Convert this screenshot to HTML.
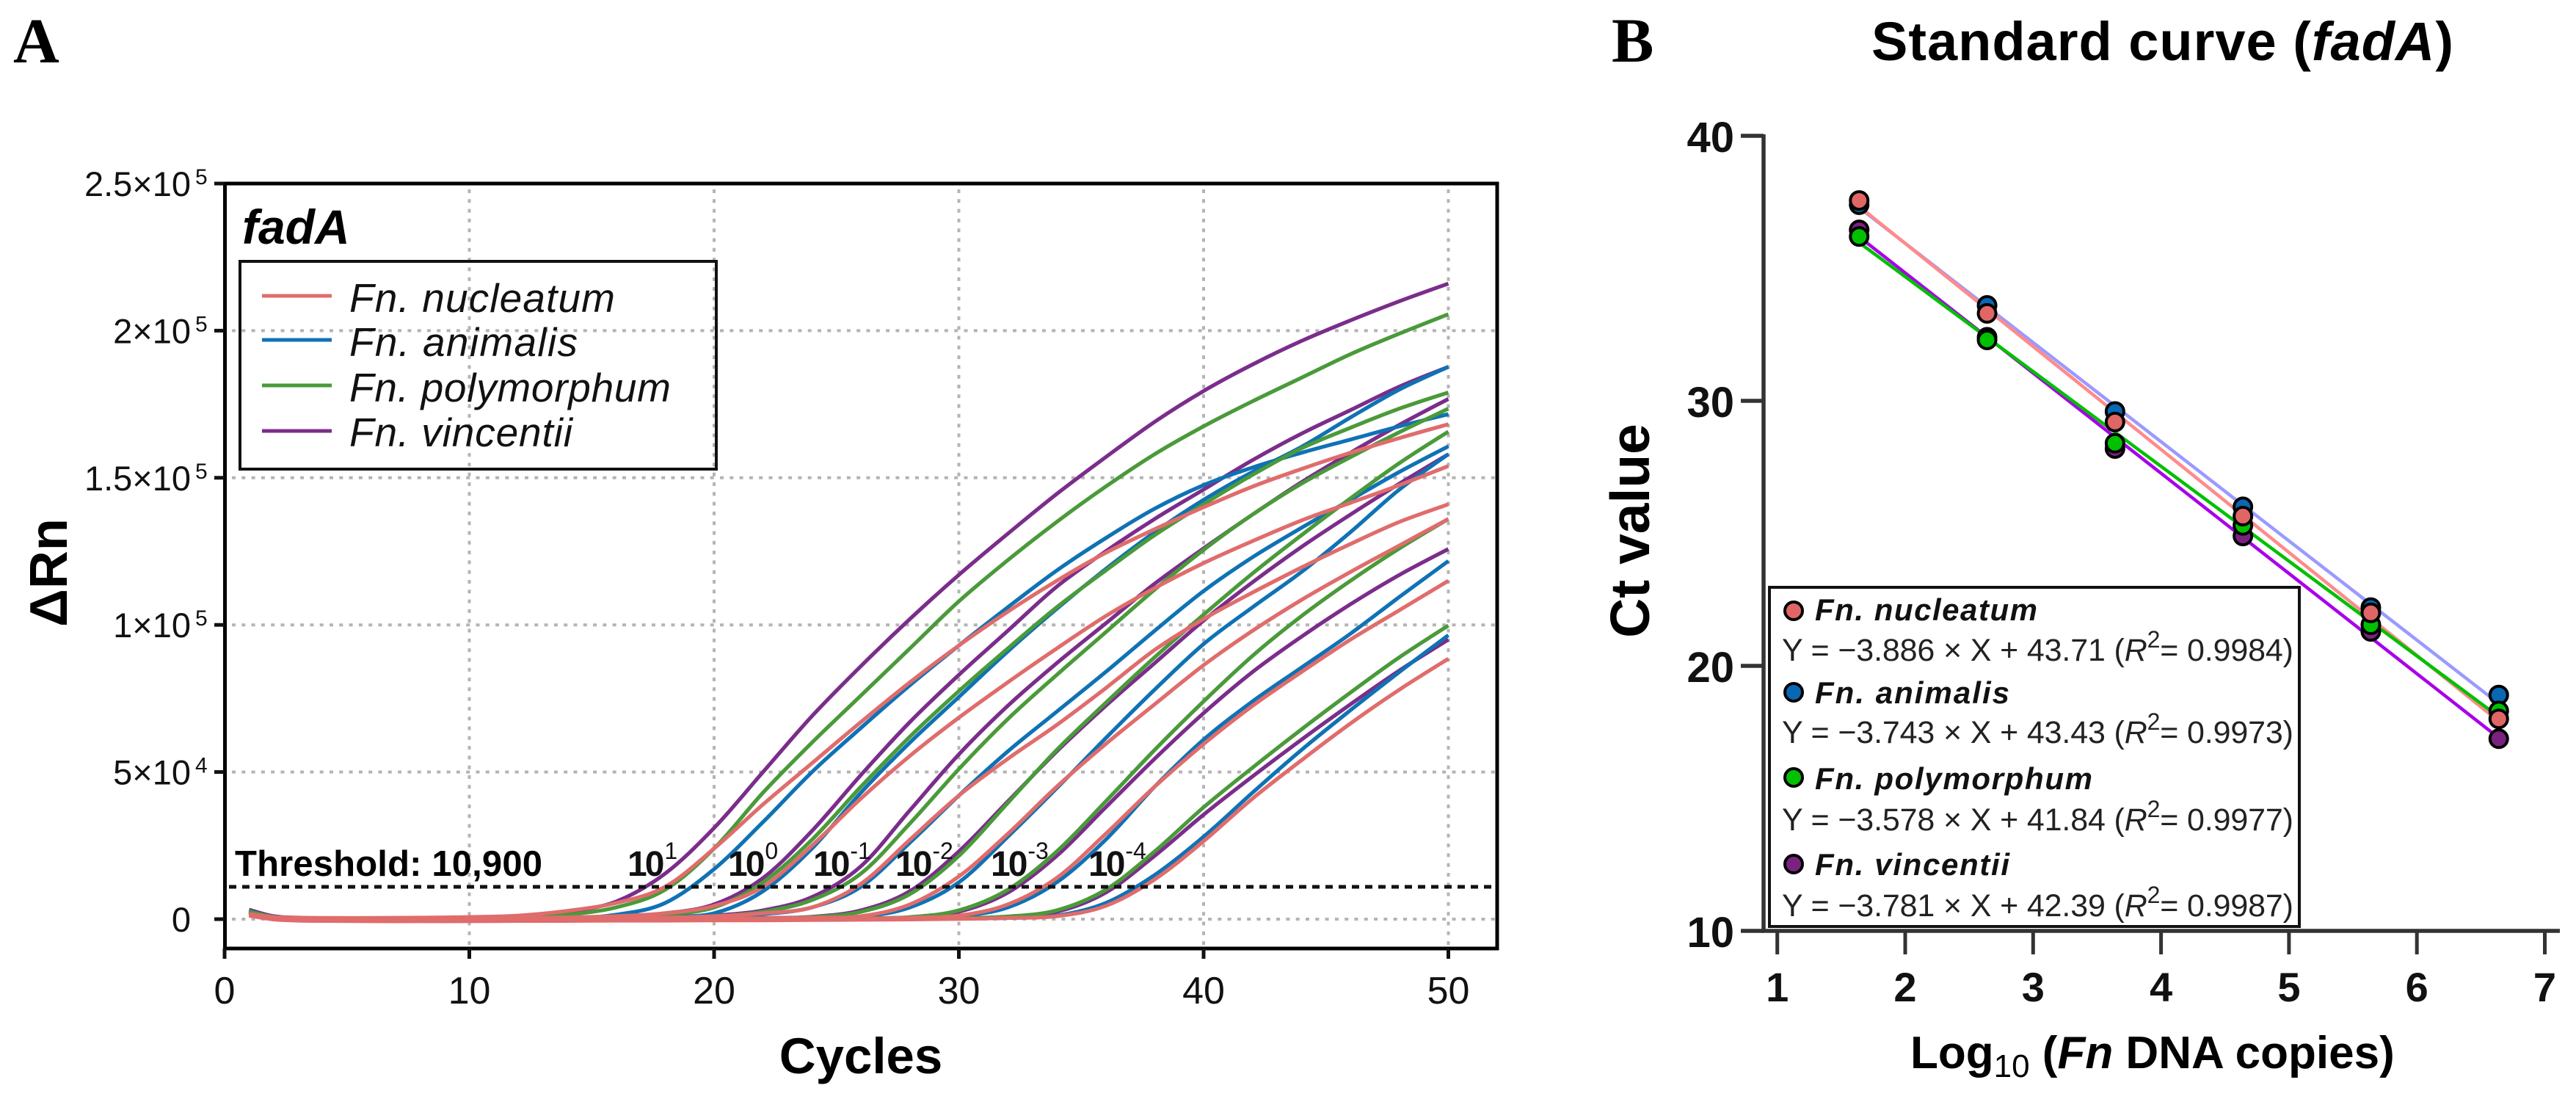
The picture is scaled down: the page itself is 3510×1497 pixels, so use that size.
<!DOCTYPE html>
<html lang="en">
<head>
<meta charset="utf-8">
<title>fadA amplification and standard curves</title>
<style>
html,body{margin:0;padding:0;background:#fff;}
svg{display:block;font-family:"Liberation Sans",sans-serif;}
</style>
</head>
<body>
<svg id="figure" xmlns="http://www.w3.org/2000/svg" width="3510" height="1497" viewBox="0 0 3510 1497">
  <rect x="0" y="0" width="3510" height="1497" fill="#fff"/>
  <text x="18" y="85" font-family="'Liberation Serif',serif" font-weight="700" font-size="87">A</text>
  <text x="2196" y="84" font-family="'Liberation Serif',serif" font-weight="700" font-size="86">B</text>

  <g id="gridA"></g>
  <g id="curvesA"></g>
  <line x1="312" y1="1208" x2="2038" y2="1208" stroke="#111" stroke-width="5" stroke-dasharray="10 8"/>
  <g id="axesA"></g>

  <text x="330" y="332" font-weight="700" font-style="italic" font-size="66">fadA</text>
  <g>
    <rect x="327" y="356" width="649" height="283" fill="none" stroke="#111" stroke-width="4"/>
    <line x1="357" x2="452" y1="403" y2="403" stroke="#e06c6c" stroke-width="5"/>
    <line x1="357" x2="452" y1="463" y2="463" stroke="#0f72b5" stroke-width="5"/>
    <line x1="357" x2="452" y1="525" y2="525" stroke="#4a9a3a" stroke-width="5"/>
    <line x1="357" x2="452" y1="587" y2="587" stroke="#7b2d8b" stroke-width="5"/>
    <g font-style="italic" font-size="55" fill="#111">
      <text x="476" y="425" textLength="362">Fn. nucleatum</text>
      <text x="476" y="485" textLength="311">Fn. animalis</text>
      <text x="476" y="547" textLength="438">Fn. polymorphum</text>
      <text x="476" y="608" textLength="304">Fn. vincentii</text>
    </g>
  </g>
  <text x="320" y="1193" font-weight="700" font-size="49" textLength="419">Threshold: 10,900</text>
  <g font-weight="700" font-size="48" fill="#111">
    <text x="855" y="1193"><tspan letter-spacing="-3">10</tspan><tspan dx="3" dy="-23" font-size="32" font-weight="400">1</tspan></text>
    <text x="992" y="1193"><tspan letter-spacing="-3">10</tspan><tspan dx="3" dy="-23" font-size="32" font-weight="400">0</tspan></text>
    <text x="1108" y="1193"><tspan letter-spacing="-3">10</tspan><tspan dx="3" dy="-23" font-size="32" font-weight="400">-1</tspan></text>
    <text x="1220" y="1193"><tspan letter-spacing="-3">10</tspan><tspan dx="3" dy="-23" font-size="32" font-weight="400">-2</tspan></text>
    <text x="1350" y="1193"><tspan letter-spacing="-3">10</tspan><tspan dx="3" dy="-23" font-size="32" font-weight="400">-3</tspan></text>
    <text x="1483" y="1193"><tspan letter-spacing="-3">10</tspan><tspan dx="3" dy="-23" font-size="32" font-weight="400">-4</tspan></text>
  </g>
  <text transform="translate(91 780) rotate(-90)" text-anchor="middle" font-weight="700" font-size="72">ΔRn</text>
  <text x="1173" y="1462" text-anchor="middle" font-weight="700" font-size="69">Cycles</text>

  <text x="2550" y="82" font-weight="700" font-size="74" textLength="793">Standard curve (<tspan font-style="italic">fadA</tspan>)</text>
  <g id="linesB"></g>
  <g id="pointsB"></g>
  <g id="axesB"></g>

  <g>
    <rect x="2411" y="800" width="722" height="462" fill="#fff" stroke="#111" stroke-width="4"/>
    <circle cx="2444" cy="832" r="12" fill="#e06666" stroke="#000" stroke-width="4"/>
    <circle cx="2444" cy="943" r="12" fill="#0868b4" stroke="#000" stroke-width="4"/>
    <circle cx="2444" cy="1059" r="12" fill="#00c000" stroke="#000" stroke-width="4"/>
    <circle cx="2444" cy="1177" r="12" fill="#7a2280" stroke="#000" stroke-width="4"/>
    <g font-weight="700" font-style="italic" font-size="42" fill="#111">
      <text x="2473" y="845" textLength="303">Fn. nucleatum</text>
      <text x="2473" y="958" textLength="265">Fn. animalis</text>
      <text x="2473" y="1075" textLength="378">Fn. polymorphum</text>
      <text x="2473" y="1192" textLength="265">Fn. vincentii</text>
    </g>
    <g font-size="43" fill="#222">
      <text x="2428" y="900" textLength="697">Y = −3.886 × X + 43.71 (<tspan font-style="italic">R</tspan><tspan dy="-18" font-size="32">2</tspan><tspan dy="18">= 0.9984)</tspan></text>
      <text x="2428" y="1012" textLength="697">Y = −3.743 × X + 43.43 (<tspan font-style="italic">R</tspan><tspan dy="-18" font-size="32">2</tspan><tspan dy="18">= 0.9973)</tspan></text>
      <text x="2428" y="1131" textLength="697">Y = −3.578 × X + 41.84 (<tspan font-style="italic">R</tspan><tspan dy="-18" font-size="32">2</tspan><tspan dy="18">= 0.9977)</tspan></text>
      <text x="2428" y="1248" textLength="697">Y = −3.781 × X + 42.39 (<tspan font-style="italic">R</tspan><tspan dy="-18" font-size="32">2</tspan><tspan dy="18">= 0.9987)</tspan></text>
    </g>
  </g>
  <text transform="translate(2247 723) rotate(-90)" text-anchor="middle" font-weight="700" font-size="75">Ct value</text>
  <text x="2603" y="1455" font-weight="700" font-size="62">Log<tspan dy="12" font-size="44" font-weight="400">10</tspan><tspan dy="-12"> (</tspan><tspan font-style="italic">Fn</tspan> DNA copies)</text>
</svg>

<script>
// ----- Panel A data: delta-Rn in thousands -----
const cycles = [1,2,3,4,6,8,10,12,14,16,18,20,22,24,26,28,30,32,34,36,38,40,42,44,46,48,50];
const vincentii1 = [3.2,1,.5,.3,.1,.1,.4,.9,2.5,6,15.5,31,50,69,86,102,117,131,144.5,157,169,179.5,188.5,196.5,203.5,210,216];
const vincentii2 = [2.5,.7,.3,.1,0,0,.1,.2,.4,.9,2,5,14,30,49,67,83,98,113,125,136,146,156,165,173,181,187.7];
const vincentii3 = [2.4,.6,.2,.1,0,0,0,0,.1,.2,.5,1.2,3,7.5,18,37,56,72.5,87,100.5,114,126,137.5,148.5,158.5,168,176.8];
const vincentii4 = [2.2,.6,.2,0,0,-.1,0,0,0,.1,.1,.2,.4,.8,3,9.5,23,40,57,72.5,87,101.5,114.5,126.5,137.5,148,158];
const vincentii5 = [2.6,.7,.3,.1,0,0,0,0,0,0,.1,.1,.1,.2,.3,.6,2.5,9,21.5,38,54.5,70,84,96,107,117,125.8];
const vincentii6 = [2.4,.6,.2,.1,0,0,0,0,0,0,0,0,0,.1,.1,.2,.3,.8,2.5,9,21.5,35.5,48.5,61,73,84.5,95];
const animalis1 = [2.8,.6,.2,0,-.1,-.2,0,.1,.3,1.5,5.5,17,33,50,65,79.5,93,106,118.5,129.5,139.5,147.5,153.5,158.5,163,167.5,171.6];
const animalis2 = [2.6,.6,.2,0,-.1,-.1,0,.1,.2,.4,.9,2,9.5,24,43,60,75.5,91,105.5,119,131.5,142.5,152,160.5,170.5,180,187.7];
const animalis3 = [2.5,.6,.2,0,-.1,-.1,0,0,0,.1,.3,.7,1.7,4,11,26,42,57,70.5,84,98,111.5,123,133,142.5,152,160.7];
const animalis4 = [2.7,.7,.2,.1,0,-.1,-.1,0,0,0,.1,.1,.2,.4,.8,4,12.5,28,44.5,61.5,78,93.5,106,118,131.5,146,158];
const animalis5 = [2.3,.5,.2,0,-.1,-.1,-.1,0,0,0,0,.1,.1,.1,.2,.4,1,4,12.5,27,45,61,74,85.5,97,109.5,121.7];
const animalis6 = [2.6,.6,.1,0,-.1,-.1,-.1,0,0,0,0,0,0,.1,.1,.1,.2,.4,1.2,5.5,15,28,43,57.5,71,84,96.5];
const polymorphum1 = [2.6,.8,.4,.2,.1,0,.2,.5,1.5,4,10,24,43,60,76,92,108,122,135,147,158,167.5,176,184,192,199,205.6];
const polymorphum2 = [2.5,.7,.3,.1,0,0,.1,.2,.3,.7,1.6,4,12.5,27,45,62,77.5,92,106,118.5,130.5,141,151,160,167,173.5,179];
const polymorphum3 = [2.4,.6,.2,.1,0,0,0,0,.1,.2,.4,1,2.5,6.5,15.5,32.5,51,68,83,97.5,112,125.5,137.5,148,157,165.5,173.5];
const polymorphum4 = [2.3,.6,.2,0,0,0,0,0,0,.1,.1,.2,.3,.7,2.5,8.5,21.5,39.5,57.5,73.5,89,103.5,117.5,130.5,143,155,165.7];
const polymorphum5 = [2.5,.6,.2,.1,0,0,0,0,0,0,.1,.1,.1,.2,.3,.7,3,10,23,40,57.5,74,89.5,103,115,126,136];
const polymorphum6 = [2.2,.5,.2,0,0,0,0,0,0,0,0,0,.1,.1,.1,.2,.3,.9,3,10,23,38,51.5,64.5,77,89,99.8];
const nucleatum1 = [1.8,.7,.5,.4,.4,.5,.7,1.2,2.8,5.5,11,24,39,53,67,80.5,93,104.5,115,124.5,132.5,140,147,153,158.5,163.5,168.2];
const nucleatum2 = [1.6,.5,.3,.3,.3,.3,.3,.4,.6,1,2,4.5,11,25,41,55.5,68.5,80.5,92,103,112.5,121,128.5,135.5,141.5,147.5,154];
const nucleatum3 = [1.4,.2,0,0,0,0,0,.1,.2,.3,.5,1,2,4,12,27,42,54.5,66,78.5,91.5,102,111,119.5,127.5,135,141];
const nucleatum4 = [1.5,.1,-.2,-.3,-.3,-.3,-.3,-.2,-.1,0,.1,.2,.3,.5,1,5,14.5,29,45,59.5,73,86.3,98,108.5,118,127,136];
const nucleatum5 = [1.3,0,-.4,-.5,-.6,-.6,-.5,-.5,-.4,-.4,-.3,-.3,-.2,-.1,.1,.5,1.2,5,14,29,45,59.5,72.5,84,95,105,115];
const nucleatum6 = [1.2,-.1,-.5,-.6,-.7,-.7,-.7,-.6,-.6,-.5,-.5,-.4,-.4,-.3,-.2,-.1,.1,.4,1,4.5,13.5,26.5,41,54,66.5,78,88.5];

const vincentiiCurves = [vincentii1,vincentii2,vincentii3,vincentii4,vincentii5,vincentii6];
const animalisCurves = [animalis1,animalis2,animalis3,animalis4,animalis5,animalis6];
const polymorphumCurves = [polymorphum1,polymorphum2,polymorphum3,polymorphum4,polymorphum5,polymorphum6];
const nucleatumCurves = [nucleatum1,nucleatum2,nucleatum3,nucleatum4,nucleatum5,nucleatum6];

const xTicksA = [0,10,20,30,40,50];
const yTicksA = [0,50,100,150,200,250];
const yTickBases = ["0","5×10","1×10","1.5×10","2×10","2.5×10"];
const yTickExps = ["","4","5","5","5","5"];

// ----- Panel B data: Ct values -----
const logCopies = [1.64,2.64,3.64,4.64,5.64,6.64];
const ctVincentii = [36.45,32.4,28.2,24.9,21.3,17.25];
const ctAnimalis = [37.4,33.6,29.6,26,22.2,18.9];
const ctPolymorphum = [36.2,32.3,28.4,25.3,21.55,18.3];
const ctNucleatum = [37.56,33.3,29.2,25.65,22,18];
const fitSlopes = [-3.781,-3.743,-3.578,-3.886];
const fitIntercepts = [42.39,43.43,41.84,43.71];
const xTicksB = [1,2,3,4,5,6,7];
const yTicksB = [10,20,30,40];

// ----- Axis functions -----
const xA = c => 306 + c * 33.35;
const yA = v => 1252 - v * 4.008;
const xB = v => 2421.7 + (v - 1) * 174.3;
const yB = v => 1268 - (v - 10) * 36.1;

const NS = "http://www.w3.org/2000/svg";
function mk(tag, parent, attrs) {
  const el = document.createElementNS(NS, tag);
  for (const k in attrs) el.setAttribute(k, attrs[k]);
  parent.appendChild(el);
  return el;
}
function smoothPath(pts) {
  let d = "M" + pts[0][0].toFixed(1) + " " + pts[0][1].toFixed(1);
  for (let i = 0; i < pts.length - 1; i++) {
    const p0 = pts[Math.max(i - 1, 0)], p1 = pts[i], p2 = pts[i + 1], p3 = pts[Math.min(i + 2, pts.length - 1)];
    const c1x = p1[0] + (p2[0] - p0[0]) / 6, c1y = p1[1] + (p2[1] - p0[1]) / 6;
    const c2x = p2[0] - (p3[0] - p1[0]) / 6, c2y = p2[1] - (p3[1] - p1[1]) / 6;
    d += "C" + c1x.toFixed(1) + " " + c1y.toFixed(1) + " " + c2x.toFixed(1) + " " + c2y.toFixed(1) + " " + p2[0].toFixed(1) + " " + p2[1].toFixed(1);
  }
  return d;
}

// ----- Panel A grid -----
const gridA = document.getElementById("gridA");
yTicksA.forEach(function (t) {
  if (t === 250) return;
  const g = mk("line", gridA, {x1: 316, x2: 2038, y1: yA(t), y2: yA(t), stroke: "#b4b4b4", "stroke-width": 4, "stroke-dasharray": "5 8.3"});
  
  
});
xTicksA.forEach(function (t) {
  if (t === 0) return;
  const g = mk("line", gridA, {x1: xA(t), x2: xA(t), y1: 258, y2: 1290, stroke: "#b4b4b4", "stroke-width": 4, "stroke-dasharray": "5 8.3"});
  
  
});

// ----- Panel A curves -----
const curvesA = document.getElementById("curvesA");
function drawCurves(list, colour, species) {
  list.forEach(function (values, i) {
    const pts = values.map(function (v, j) { return [xA(cycles[j]), yA(v)]; });
    const p = mk("path", curvesA, {d: smoothPath(pts), fill: "none", stroke: colour, "stroke-width": 5.2, "stroke-linejoin": "round"});
    
    
  });
}
drawCurves(vincentiiCurves, "#7b2d8b", "vincentii");
drawCurves(animalisCurves, "#0f72b5", "animalis");
drawCurves(polymorphumCurves, "#4a9a3a", "polymorphum");
drawCurves(nucleatumCurves, "#e06c6c", "nucleatum");

// ----- Panel A axes -----
const axesA = document.getElementById("axesA");
const frameA = mk("rect", axesA, {x: 306.5, y: 250, width: 1733.5, height: 1042, fill: "none", stroke: "#000", "stroke-width": 5});


yTicksA.forEach(function (t, i) {
  const y = yA(t);
  const tick = mk("line", axesA, {x1: 292, x2: 306, y1: y, y2: y, stroke: "#111", "stroke-width": 5});
  
  
  const lab = mk("text", axesA, {x: 260, y: y + 17, "text-anchor": "end", "font-size": 47, fill: "#111"});
  lab.textContent = yTickBases[i];
  
  
  if (yTickExps[i]) {
    const sup = mk("text", axesA, {x: 266, y: y + 1, "font-size": 30, fill: "#111"});
    sup.textContent = yTickExps[i];
    
    
  }
});
xTicksA.forEach(function (t) {
  const x = xA(t);
  const tick = mk("line", axesA, {x1: x, x2: x, y1: 1292, y2: 1306, stroke: "#111", "stroke-width": 5});
  
  
  const lab = mk("text", axesA, {x: x, y: 1367, "text-anchor": "middle", "font-size": 52, fill: "#111"});
  lab.textContent = String(t);
  
  
});

// ----- Panel B lines and points -----
const linesB = document.getElementById("linesB");
const fitColours = ["#a800e8", "#9a9aff", "#00c000", "#ff8a8a"];
const fitNames = ["vincentii", "animalis", "polymorphum", "nucleatum"];
[1, 3, 0, 2].forEach(function (i) {
  const x0 = logCopies[0], x1 = logCopies[logCopies.length - 1];
  const l = mk("line", linesB, {
    x1: xB(x0), y1: yB(fitSlopes[i] * x0 + fitIntercepts[i]),
    x2: xB(x1), y2: yB(fitSlopes[i] * x1 + fitIntercepts[i]),
    stroke: fitColours[i], "stroke-width": 4.5
  });
  
  
});
const pointsB = document.getElementById("pointsB");
function drawPoints(values, colour, species) {
  values.forEach(function (v, i) {
    const c = mk("circle", pointsB, {cx: xB(logCopies[i]), cy: yB(v), r: 12, fill: colour, stroke: "#000", "stroke-width": 4});
    
    
  });
}
drawPoints(ctVincentii, "#7a2280", "vincentii");
drawPoints(ctAnimalis, "#0868b4", "animalis");
drawPoints(ctPolymorphum, "#00c000", "polymorphum");
drawPoints(ctNucleatum, "#e06666", "nucleatum");

// ----- Panel B axes -----
const axesB = document.getElementById("axesB");
const yAxisB = mk("line", axesB, {x1: 2403, x2: 2403, y1: 183, y2: 1270, stroke: "#333", "stroke-width": 5.5});


const xAxisB = mk("line", axesB, {x1: 2400, x2: 3488, y1: 1268, y2: 1268, stroke: "#333", "stroke-width": 5.5});


yTicksB.forEach(function (t) {
  const y = yB(t);
  const tick = mk("line", axesB, {x1: 2372, x2: 2403, y1: y, y2: y, stroke: "#333", "stroke-width": 5.5});
  
  
  const lab = mk("text", axesB, {x: 2363, y: y + 22, "text-anchor": "end", "font-size": 58, "font-weight": 700, fill: "#111"});
  lab.textContent = String(t);
  
  
});
xTicksB.forEach(function (t) {
  const x = xB(t);
  const tick = mk("line", axesB, {x1: x, x2: x, y1: 1268, y2: 1300, stroke: "#333", "stroke-width": 5});
  
  
  const lab = mk("text", axesB, {x: x, y: 1364, "text-anchor": "middle", "font-size": 56, "font-weight": 700, fill: "#111"});
  lab.textContent = String(t);
  
  
});
</script>
</body>
</html>
